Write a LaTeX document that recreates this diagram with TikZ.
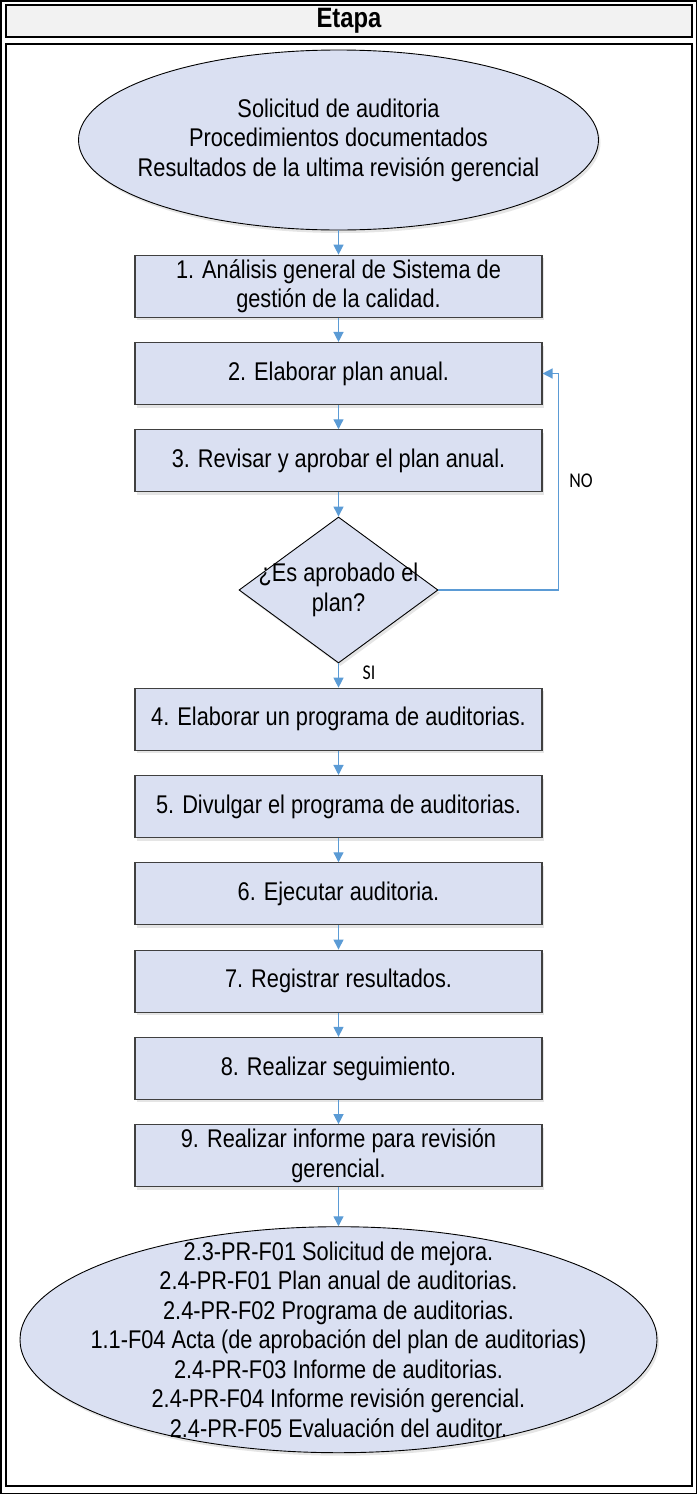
\documentclass[tikz,border=0pt]{standalone}
\usepackage{fontspec}
\setmainfont{Liberation Sans}[FakeStretch=0.85]
\newfontfamily\lblfont{Carlito}[FakeStretch=0.85]
\usepackage{tikz}
\usetikzlibrary{positioning, arrows.meta, shapes.geometric, shadows}
\definecolor{flowfill}{RGB}{218,224,242}
\definecolor{flowarr}{RGB}{91,155,213}
\definecolor{boxline}{RGB}{64,64,64}
\definecolor{hdrgray}{RGB}{242,242,242}

\begin{document}
\begin{tikzpicture}[
    x=1pt, y=-1pt,
    node distance = 24.2pt,
    every node/.style = {font=\fontsize{25.6pt}{29.5pt}\selectfont},
    shade/.style = {drop shadow={shadow xshift=2pt, shadow yshift=-3pt,
                    opacity=0.1, fill=black}},
    box/.style = {draw=boxline, line width=1.1pt, fill=flowfill, shade,
                  minimum width=407pt, minimum height=62pt,
                  inner sep=0pt, align=center},
    term/.style = {ellipse, draw=black, line width=0.9pt, fill=flowfill,
                   shade, inner sep=0pt},
    decision/.style = {diamond, draw=black, line width=0.9pt, fill=flowfill,
                       shade, minimum width=199pt, minimum height=146pt,
                       inner sep=0pt},
    txt/.style = {align=center, inner sep=0pt},
    arr/.style = {-{Triangle[length=10pt, width=10pt]}, line width=1.3pt, flowarr},
    lbl/.style = {font=\lblfont\fontsize{21pt}{24pt}\selectfont, inner sep=0pt},
  ]
    \useasboundingbox (0,0) rectangle (697,1494);

    % table frame with its header row
    \draw[line width=1.5pt] (0.75,0.75) rectangle (696.25,1493.25);
    \draw[line width=2pt, fill=hdrgray] (6,5) rectangle (692,37);
    \draw[line width=2pt] (6,44) rectangle (692,1486);
    \node[font=\bfseries\fontsize{28pt}{30pt}\selectfont] (etapa) at (349,21) {Etapa};

    % inputs
    \node[term, minimum width=520pt, minimum height=180pt] (src) at (338.5,140) {};
    \node[txt] (srctxt) at (src) {Solicitud de auditoria\\Procedimientos documentados\\
      Resultados de la ultima revisión gerencial};

    \node[box, below=of src] (b1) {1. Análisis general de Sistema de\\gestión de la calidad.};
    \node[box, below=of b1] (b2) {2. Elaborar plan anual.};
    \node[box, below=of b2] (b3) {3. Revisar y aprobar el plan anual.};
    \node[decision, below=of b3] (dec) {};
    \node[txt] (dectxt) at (dec) {¿Es aprobado el\\plan?};
    \node[box, below=of dec] (b4) {4. Elaborar un programa de auditorias.};
    \node[box, below=of b4] (b5) {5. Divulgar el programa de auditorias.};
    \node[box, below=of b5] (b6) {6. Ejecutar auditoria.};
    \node[box, below=of b6] (b7) {7. Registrar resultados.};
    \node[box, below=of b7] (b8) {8. Realizar seguimiento.};
    \node[box, below=of b8] (b9) {9. Realizar informe para revisión\\gerencial.};

    % outputs (records)
    \node[term, minimum width=637pt, minimum height=226pt, below=39pt of b9] (out) {};
    \node[txt] (outtxt) at (out) {2.3-PR-F01 Solicitud de mejora.\\
      2.4-PR-F01 Plan anual de auditorias.\\
      2.4-PR-F02 Programa de auditorias.\\
      1.1-F04 Acta (de aprobación del plan de auditorias)\\
      2.4-PR-F03 Informe de auditorias.\\
      2.4-PR-F04 Informe revisión gerencial.\\
      2.4-PR-F05 Evaluación del auditor.};

    \draw[arr] (src) -- (b1);
    \draw[arr] (b1)  -- (b2);
    \draw[arr] (b2)  -- (b3);
    \draw[arr] (b3)  -- (dec);
    \draw[arr] (dec) -- (b4);
    \draw[arr] (b4)  -- (b5);
    \draw[arr] (b5)  -- (b6);
    \draw[arr] (b6)  -- (b7);
    \draw[arr] (b7)  -- (b8);
    \draw[arr] (b8)  -- (b9);
    \draw[arr] (b9)  -- (out);
    % back to step 2 when the plan is rejected
    \draw[arr] (dec.east) -- ++(120,0) |- (b2.east);

    \node[lbl] (no) at (581,481) {NO};
    \node[lbl] (si) at (369,673) {SI};
  \end{tikzpicture}
\end{document}
